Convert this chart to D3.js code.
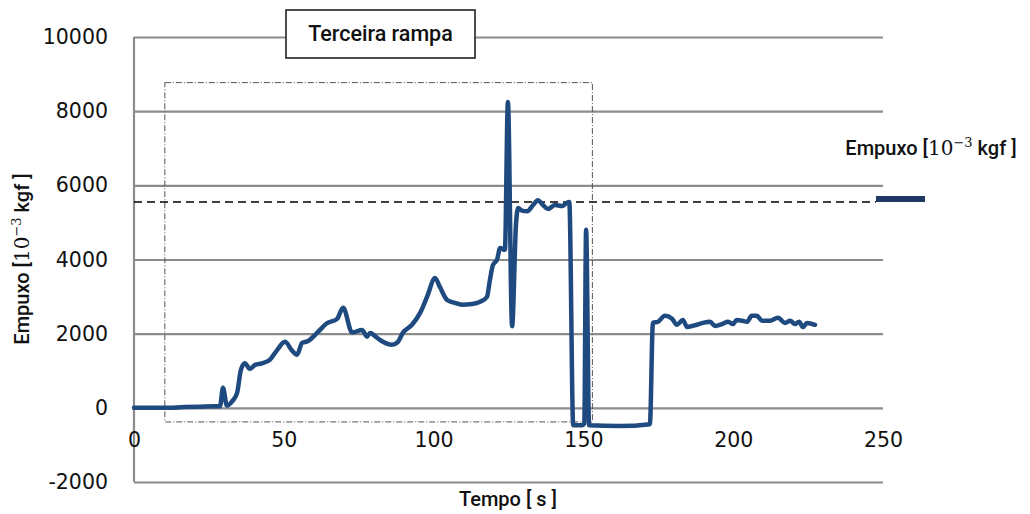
<!DOCTYPE html>
<html>
<head>
<meta charset="utf-8">
<script src="https://cdn.jsdelivr.net/npm/d3@7"></script>
<style>
  html, body { margin: 0; padding: 0; background: #fff; }
  svg { display: block; }
</style>
</head>
<body>
<svg id="chart" width="1030" height="514"></svg>
<script>
// Thrust test record: time [s] and thrust [10^-3 kgf]
const tempo = [
  0, 10, 17, 22, 27, 28.7, 29.7, 31, 33, 34.4, 35.7, 37, 38.7, 40.4, 42.7, 45.4,
  47.7, 50.4, 52.7, 54.4, 56.1, 58.1, 61.1, 64.4, 67.8, 69.8, 72.8, 76.1, 77.8,
  78.8, 81.1, 83.1, 86.1, 88.1, 89.8, 92.8, 95.5, 97.8, 100.5, 102.1, 104.5,
  107.1, 109.5, 112.8, 115.5, 117.8, 118.8, 119.8, 121.2, 122.2, 123.8, 124.8,
  126.2, 127.5, 128.2, 129.5, 131.2, 133.2, 134.8, 136.5, 138.2, 140.5, 142.9,
  144.5, 145.3, 146.6, 149.5, 150.3, 150.9, 151.9, 162, 172.2, 173.2, 174.9,
  177.2, 179.6, 181.2, 183.2, 184.6, 187.9, 189.9, 192.3, 193.9, 196.3, 198.3,
  199.9, 201.2, 202.9, 204.6, 206.2, 207.9, 209.6, 212.3, 214.9, 217.3, 219.0,
  220.6, 222.0, 223.3, 224.6, 227.3
];
const empuxo = [
  0, 0, 20, 30, 40, 40, 540, 60, 200, 400, 1030, 1200, 1050, 1160, 1200, 1300,
  1550, 1780, 1550, 1430, 1750, 1800, 2020, 2280, 2400, 2700, 2030, 2100, 1920,
  2020, 1890, 1780, 1700, 1780, 2030, 2240, 2560, 2990, 3500, 3260, 2910,
  2830, 2780, 2800, 2860, 2990, 3450, 3850, 4000, 4310, 4260, 8250,
  2200, 4950, 5390, 5320, 5300, 5470, 5600, 5470, 5360, 5470, 5440,
  5530, 5550, -470, -470, -420, 4800, -470, -490, -440, 2290, 2320,
  2480, 2400, 2240, 2370, 2180, 2240, 2290, 2320, 2210, 2260, 2320,
  2260, 2370, 2350, 2320, 2480, 2480, 2350, 2350, 2430, 2290, 2350,
  2260, 2320, 2180, 2290, 2240
];

// Axis ticks
const xTicks = [0, 50, 100, 150, 200, 250];
const yTicks = [-2000, 0, 2000, 4000, 6000, 8000, 10000];

// Reference level (dashed) and the highlighted window of the third ramp
const nivelReferencia = 5550;
const janelaRampa = { t0: 10.3, t1: 153, v0: -380, v1: 8770 };
const tituloRampa = "Terceira rampa";

const svg = d3.select("#chart");
const font = "Roboto, 'DejaVu Sans', sans-serif";
const tickFont = "'DejaVu Sans', sans-serif";
const lineColor = "#1f4a7f";
const gridColor = "#8c8c8c";

const plot = { left: 134, right: 883, top: 37, bottom: 482 };

const x = d3.scaleLinear().domain([0, 250]).range([plot.left, plot.right]);
const y = d3.scaleLinear().domain([-2000, 10000]).range([plot.bottom, plot.top]);

// Horizontal grid
const yGrid = svg.append("g")
  .attr("transform", `translate(${plot.left},0)`)
  .call(d3.axisLeft(y).tickValues(yTicks).tickSize(-(plot.right - plot.left)).tickFormat(""));
yGrid.select(".domain").remove();
yGrid.selectAll("line").attr("stroke", gridColor).attr("stroke-width", 2.2);

// Vertical axis line
svg.append("line")
  .attr("x1", x(0)).attr("x2", x(0))
  .attr("y1", plot.top).attr("y2", plot.bottom)
  .attr("stroke", gridColor).attr("stroke-width", 2.2);

// Y tick labels (plain hyphen for negatives)
const yAxis = svg.append("g")
  .attr("transform", `translate(${plot.left},0)`)
  .call(d3.axisLeft(y).tickValues(yTicks).tickSize(0).tickPadding(26).tickFormat(d => String(d)));
yAxis.select(".domain").remove();
yAxis.selectAll("text")
  .attr("font-family", tickFont)
  .attr("font-size", 20.5).attr("fill", "#111");

// X tick labels sit just under the zero line
const xAxis = svg.append("g")
  .attr("transform", `translate(0,${y(0)})`)
  .call(d3.axisBottom(x).tickValues(xTicks).tickSize(0).tickPadding(25).tickFormat(d => String(d)));
xAxis.select(".domain").remove();
xAxis.selectAll("text")
  .attr("font-family", tickFont)
  .attr("font-size", 20.5).attr("fill", "#111");

// Dash-dot window around the third ramp
svg.append("rect")
  .attr("x", x(janelaRampa.t0))
  .attr("y", y(janelaRampa.v1))
  .attr("width", x(janelaRampa.t1) - x(janelaRampa.t0))
  .attr("height", y(janelaRampa.v0) - y(janelaRampa.v1))
  .attr("fill", "none")
  .attr("stroke", "#555")
  .attr("stroke-width", 1)
  .attr("stroke-dasharray", "6,2,1,2");

// Reference level
svg.append("line")
  .attr("x1", x(0)).attr("x2", 876)
  .attr("y1", y(nivelReferencia)).attr("y2", y(nivelReferencia))
  .attr("stroke", "#000").attr("stroke-width", 1.6)
  .attr("stroke-dasharray", "8,5");

// Thrust curve
const serie = tempo.map((t, i) => ({ t, v: empuxo[i] }));
svg.append("path")
  .datum(serie)
  .attr("fill", "none")
  .attr("stroke", lineColor)
  .attr("stroke-width", 4.5)
  .attr("stroke-linejoin", "round")
  .attr("stroke-linecap", "round")
  .attr("d", d3.line().x(d => x(d.t)).y(d => y(d.v)).curve(d3.curveMonotoneX));

// Title box
const tb = svg.append("g");
tb.append("rect")
  .attr("x", 286).attr("y", 10).attr("width", 189).attr("height", 48)
  .attr("fill", "#fff").attr("stroke", "#222").attr("stroke-width", 1.6);
tb.append("text")
  .attr("x", 380.5).attr("y", 41)
  .attr("text-anchor", "middle")
  .attr("font-family", font).attr("font-weight", 500)
  .attr("font-size", 21.5).attr("fill", "#111")
  .text(tituloRampa);

// Legend
function unitLabel(sel) {
  sel.append("tspan").text("Empuxo [");
  sel.append("tspan").attr("font-family", "'DejaVu Serif', serif").attr("font-weight", 400).text("10");
  sel.append("tspan").attr("font-family", "'DejaVu Serif', serif").attr("font-weight", 400)
    .attr("font-size", 13).attr("dy", -8).text("\u22123");
  sel.append("tspan").attr("dy", 8).text(" kgf ]");
}
const lg = svg.append("g");
lg.append("text")
  .attr("x", 931).attr("y", 155)
  .attr("text-anchor", "middle")
  .attr("font-family", font).attr("font-weight", 500)
  .attr("font-size", 20).attr("fill", "#111")
  .call(unitLabel);
lg.append("rect")
  .attr("x", 876).attr("y", 196).attr("width", 49).attr("height", 6)
  .attr("fill", "#1f3864");

// Axis titles
svg.append("text")
  .attr("transform", "translate(29,259) rotate(-90)")
  .attr("text-anchor", "middle")
  .attr("font-family", font).attr("font-weight", 500)
  .attr("font-size", 20).attr("fill", "#111")
  .call(unitLabel);

svg.append("text")
  .attr("x", 508).attr("y", 506)
  .attr("text-anchor", "middle")
  .attr("font-family", font).attr("font-weight", 500)
  .attr("font-size", 20).attr("fill", "#111")
  .text("Tempo [ s ]");
</script>
</body>
</html>
